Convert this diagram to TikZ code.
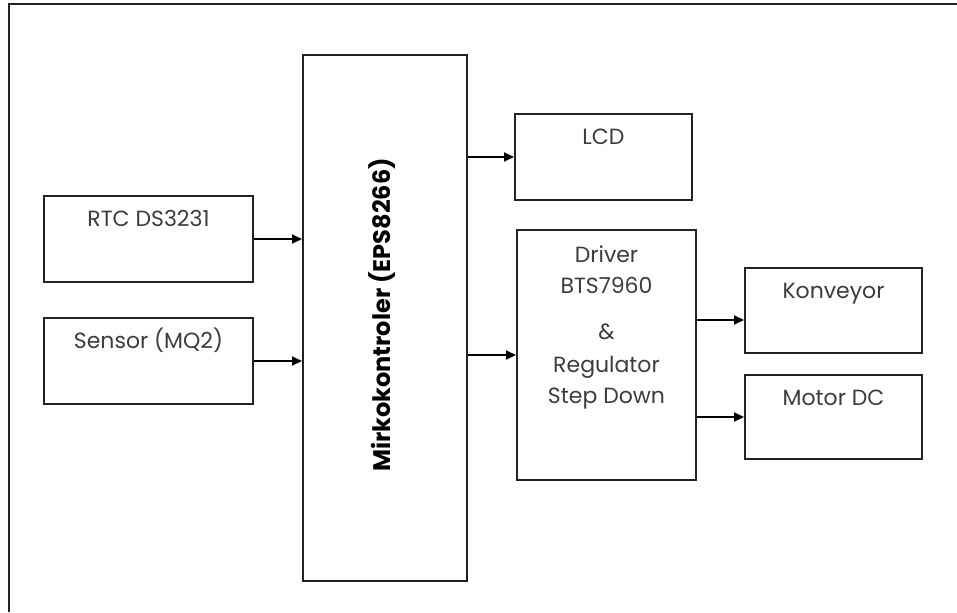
\documentclass[tikz,border=0pt]{standalone}
\usepackage{fontspec}
\setmainfont{Poppins}
\usetikzlibrary{positioning, arrows.meta, calc}
\definecolor{inkgray}{HTML}{222222}
\definecolor{txtgray}{HTML}{3C3C3C}

\begin{document}
\begin{tikzpicture}[
    x=0.5pt, y=-0.5pt,
    every node/.style={font=\fontsize{11}{15.5}\selectfont, text=txtgray},
    blok/.style 2 args={draw=inkgray, line width=1pt, inner sep=0pt,
                        minimum width=#1, minimum height=#2},
    lbl/.style={anchor=base, align=center, inner sep=0pt},
    arr/.style={-{Triangle[length=5pt, width=4.5pt]}, line width=0.9pt, draw=black},
  ]
  \useasboundingbox (0,0) rectangle (957,612);
  \draw[draw=inkgray, line width=1pt] (957,4) -| (9,612);

  \node[blok={104.5pt}{43pt}]    (rtc)    at (148.5,239) {};
  \node[blok={104.5pt}{43pt}]    (sensor) at (148.5,361) {};
  \node[blok={82pt}{263pt}]      (mcu)    at (385,318)   {};
  \node[blok={88.5pt}{43pt}]     (lcd)    at (603.5,157) {};
  \node[blok={89.5pt}{125pt}]    (driver) at (606.5,355)   {};
  \node[blok={88.5pt}{42.5pt}]   (konv)   at (833.5,310.5) {};
  \node[blok={88.5pt}{42pt}]     (motor)  at (833.5,417)   {};

  % labels sit near the top of each box
  \node[lbl] (rtc-t)    at ([yshift=-15.5pt]rtc.north)    {RTC DS3231};
  \node[lbl] (sensor-t) at ([yshift=-15.5pt]sensor.north) {Sensor (MQ2)};
  \node[lbl] (lcd-t)    at ([yshift=-15.5pt]lcd.north)    {LCD};
  \node[lbl] (konv-t)   at ([yshift=-15.5pt]konv.north)   {Konveyor};
  \node[lbl] (motor-t)  at ([yshift=-15.5pt]motor.north)  {Motor DC};
  \node[lbl, anchor=north] (driver-t) at ([yshift=-8pt]driver.north)
    {Driver\\BTS7960\\[7.5pt]\&\\[1pt]Regulator\\Step Down};
  \node[rotate=90, text=black, font=\fontsize{12}{14}\selectfont\bfseries]
    (mcu-t) at ([xshift=-1.5pt, yshift=1.5pt]mcu.center) {Mirkokontroler (EPS8266)};

  \coordinate (konv-in) at ([yshift=-4.75pt]konv.west);

  \draw[arr] (rtc) -- (rtc -| mcu.west);
  \draw[arr] (sensor) -- (sensor -| mcu.west);
  \draw[arr] (mcu.east |- lcd) -- (lcd);
  \draw[arr] (mcu.east |- driver) -- (driver);
  \draw[arr] (driver.east |- konv-in) -- (konv-in);
  \draw[arr] (driver.east |- motor) -- (motor);
\end{tikzpicture}
\end{document}
